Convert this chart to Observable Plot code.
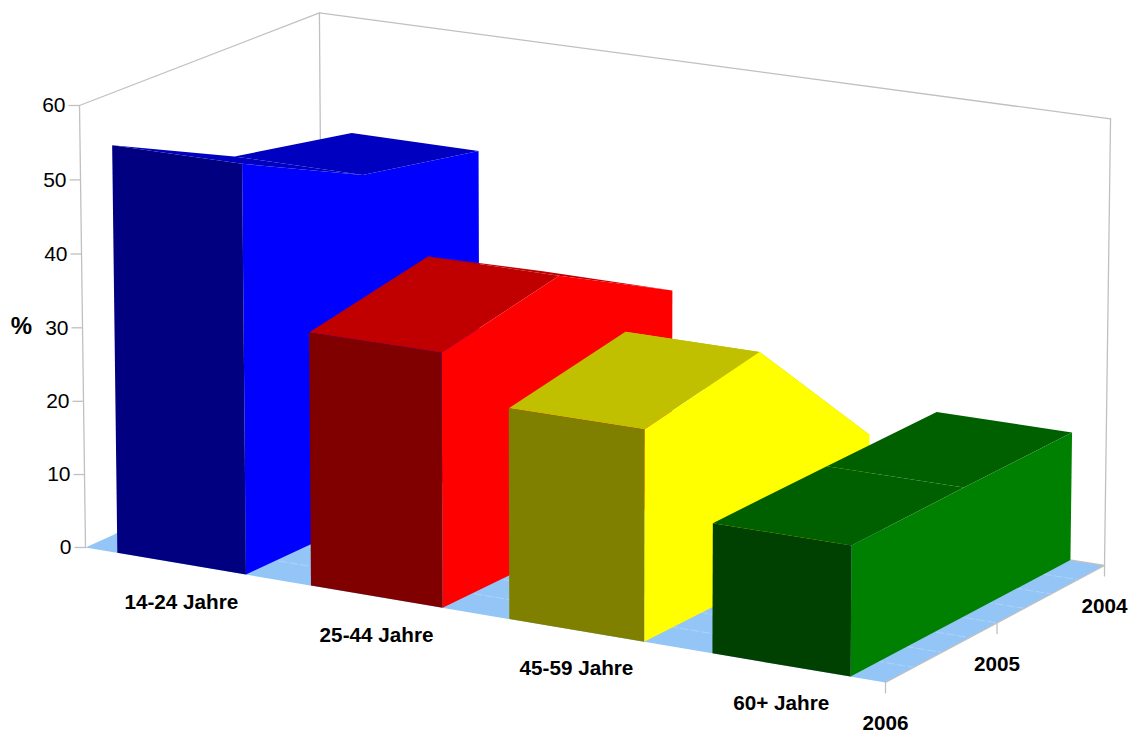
<!DOCTYPE html>
<html><head><meta charset="utf-8">
<script src="https://cdn.jsdelivr.net/npm/d3@7"></script>
<script src="https://cdn.jsdelivr.net/npm/@observablehq/plot@0.6"></script>
<style>html,body{margin:0;padding:0;background:#fff}svg{display:block}</style>
</head><body><div id="chart"></div>
<script>
const categories = ["14-24 Jahre","25-44 Jahre","45-59 Jahre","60+ Jahre"];
const years = ["2006","2005","2004"];
const values2006 = [55.3,34.1,28.1,17.2];
const values2005 = [47.2,37.4,31.2,17.3];
const values2004 = [43.9,28.5,12.8,17.3];
const valueTicks = [0,10,20,30,40,50,60];
const floorGrid = [1,2,3,4,5,6,7];
const frontColors = ["#000080","#800000","#808000","#004000"];
const sideColors = ["#0000ff","#ff0000","#ffff00","#008000"];
const topColors = ["#0000c0","#c00000","#c0c000","#006000"];
const floorColor = "#93c5f6";
const gridColor = "#aed4fa";
const wallColor = "#c0c0c0";

// Camera: perspective projection of (category, depth, value) on the page
const cam = [[758.53,248.64,-6.9,85],[103.04,-91.10,-443.2,547],[-0.04686,0.03614,-0.0116,1]];
const project = (u,v,val) => {
  const w = val/60, p = r => r[0]*u + r[1]*v + r[2]*w + r[3], d = p(cam[2]);
  return [p(cam[0])/d, p(cam[1])/d];
};
const catX = d3.scaleBand().domain(categories).range([0,1]).paddingInner(1/3).paddingOuter(1/6);
const depth = d3.scalePoint().domain(years).range([0,1]);
const series = [values2006,values2005,values2004];

const faces = [];
const face = (id,fill,pts) => pts.forEach(p => { const [x,y]=project(...p); faces.push({id,fill,x,y}); });
face("floor",floorColor,[[0,0,0],[1,0,0],[1,1,0],[0,1,0]]);
categories.forEach((c,i)=>{
  const a = catX(c), b = a + catX.bandwidth();
  const vs = series.map(s=>s[i]), ds = years.map(y=>depth(y));
  for (let k=years.length-2;k>=0;k--)
    face(c+"top"+k,topColors[i],[[a,ds[k],vs[k]],[b,ds[k],vs[k]],[b,ds[k+1],vs[k+1]],[a,ds[k+1],vs[k+1]]]);
  face(c+"side",sideColors[i],[[b,0,0],...ds.map((d,k)=>[b,d,vs[k]]),[b,1,0]]);
  face(c+"front",frontColors[i],[[a,0,0],[b,0,0],[b,0,vs[0]],[a,0,vs[0]]]);
});

const collect = (segments) => segments.flatMap(([id,pts]) => pts.map(p=>{const [x,y]=project(...p); return {id,x,y};}));
const wall = collect([
  ["top",[[0,0,60],[0,1,60],[1,1,60]]],
  ["corner",[[0,1,0],[0,1,60]]],
  ["right",[[1,1,0],[1,1,60]]],
  ["left",[[0,0,0],[0,0,60]]],
  ["floorBack",[[0,1,0],[1,1,0]]],
  ["floorRight",[[1,0,0],[1,1,0]]]
]);
const grid = collect(floorGrid.map(k=>["g"+k,[[0,k/8,0],[1,k/8,0]]]));

const pos = (arr,f) => arr.map(d=>{const [x,y]=project(...f(d)); return {d,x,y};});
const valLabels = pos(valueTicks,t=>[0,0,t]);
const catLabels = pos(categories,c=>[catX(c)+catX.bandwidth()/2,0,0]);
const yearLabels = pos(years,y=>[1,depth(y),0]);

const font = "Liberation Sans, Arial, sans-serif";
const plot = Plot.plot({
  width:1139,height:731,margin:0,
  x:{domain:[0,1139],range:[0,1139],axis:null},
  y:{domain:[0,731],range:[0,731],axis:null},
  marks:[
    Plot.line(faces.filter(f=>f.id==="floor"),{x:"x",y:"y",z:"id",fill:"fill",stroke:"none",curve:"linear-closed"}),
    Plot.line(grid,{x:"x",y:"y",z:"id",stroke:gridColor,strokeWidth:1,strokeDasharray:"8,3"}),
    Plot.line(wall,{x:"x",y:"y",z:"id",stroke:wallColor,strokeWidth:1.3}),
    Plot.link(valLabels,{x1:d=>d.x-11,x2:"x",y1:"y",y2:"y",stroke:wallColor,strokeWidth:1.3}),
    Plot.link(yearLabels,{x1:"x",x2:"x",y1:"y",y2:d=>d.y+11,stroke:wallColor,strokeWidth:1.3}),
    Plot.line(faces.filter(f=>f.id!=="floor"),{x:"x",y:"y",z:"id",fill:"fill",stroke:"none",curve:"linear-closed"}),
    Plot.text(valLabels,{x:"x",y:"y",text:d=>String(d.d),dx:-14,textAnchor:"end",fontSize:21,fontFamily:font,fill:"#000"}),
    Plot.text(catLabels,{x:"x",y:"y",text:"d",dy:38.5,fontSize:20.7,fontWeight:"bold",fontFamily:font,fill:"#000"}),
    Plot.text(yearLabels,{x:"x",y:"y",text:"d",dy:41,fontSize:20.7,fontWeight:"bold",fontFamily:font,fill:"#000"}),
    Plot.text(["%"],{x:()=>21,y:()=>326,text:d=>d,fontSize:24,fontWeight:"bold",fontFamily:font,fill:"#000"})
  ]
});
document.getElementById("chart").append(plot);
</script></body></html>
